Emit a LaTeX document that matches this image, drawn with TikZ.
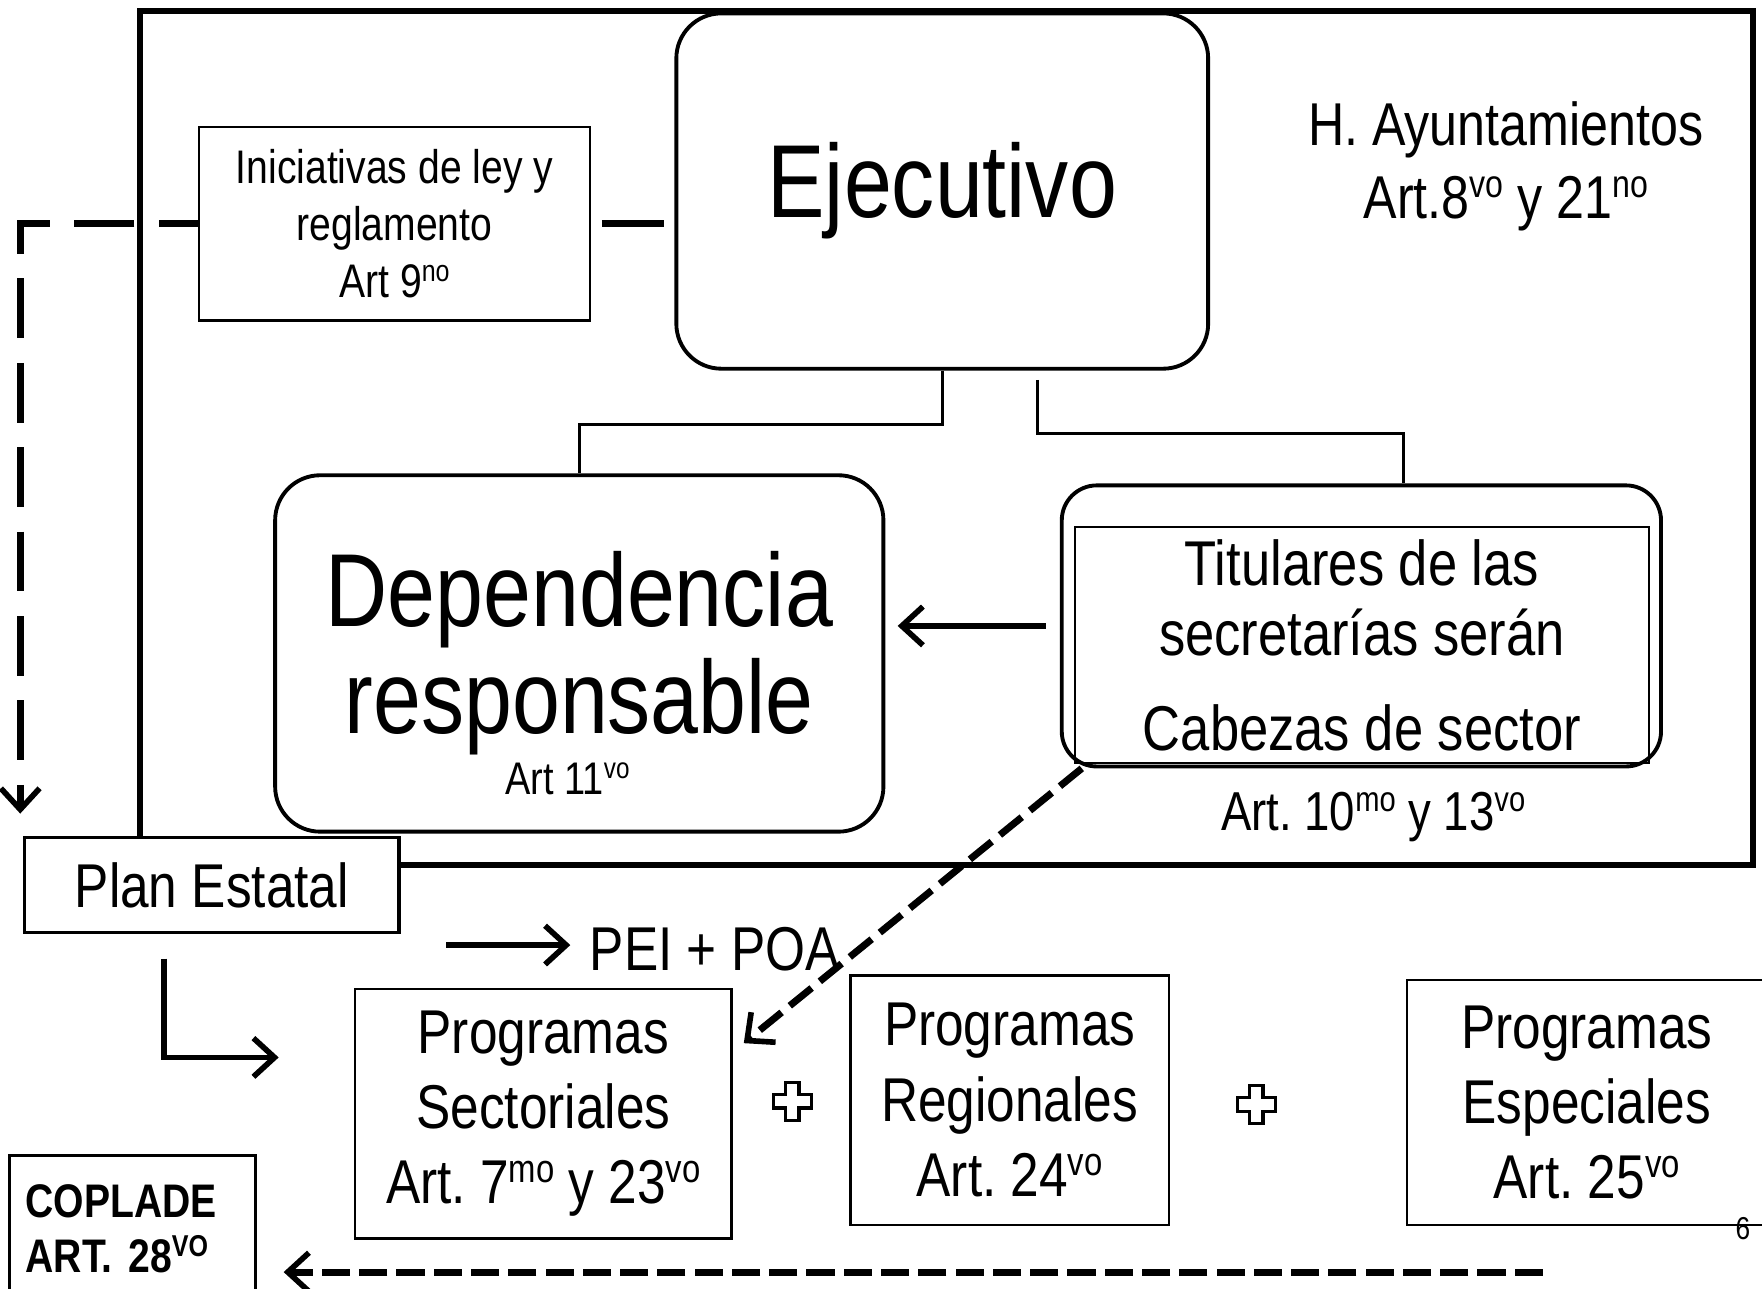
\documentclass[tikz,border=0pt]{standalone}
\usepackage{graphicx}
\usepackage{fontspec}
\setmainfont{Liberation Sans}[FakeStretch=0.83]
\usetikzlibrary{arrows.meta}
\frenchspacing
\newcommand\ordsup[1]{\raisebox{0.34em}{\scalebox{0.64}{#1}}}

\begin{document}
\begin{tikzpicture}[x=0.011237cm, y=-0.011237cm,
    frame/.style={line width=1.7pt},
    rbox/.style={draw, rounded corners=0.45cm, line width=1.1pt, align=center},
    sbox/.style={draw, line width=0.7pt, align=center},
    prog/.style={sbox, font=\fontsize{17.6}{21.4}\selectfont},
    link/.style={line width=0.8pt},
    barb/.style={-{Straight Barb[length=6pt,width=11pt,line width=1.6pt]}},
    dashln/.style={line width=2pt, dash pattern=on 8pt off 2.6pt}]
\useasboundingbox (0,0) rectangle (1568,1147);

% marco
\draw [frame] (125,10) rectangle (1560,770);

\node[rbox, minimum width=5.315cm, minimum height=3.551cm, font=\fontsize{29.5}{33}\selectfont] (eje) at (838.5,170) {Ejecutivo};

\node[sbox, minimum width=3.910cm, minimum height=1.933cm, font=\fontsize{13.4}{16.3}\selectfont] (ini) at (351,199) {Iniciativas de ley y\\reglamento\\Art 9\ordsup{no}};

\node[align=center, font=\fontsize{17.2}{20.7}\selectfont] (ayu) at (1340,148) {H. Ayuntamientos\\Art.8\ordsup{vo} y 21\ordsup{no}};

\node[rbox, minimum width=6.079cm, minimum height=3.562cm, font=\fontsize{29.5}{30.5}\selectfont] (dep) at (515.5,581.5) {Dependencia\\responsable};
\node[font=\fontsize{13}{15}\selectfont] (art11) at (505,693) {Art 11\ordsup{vo}};

\node[rbox, rounded corners=0.35cm, minimum width=5.989cm, minimum height=2.809cm] (titout) at (1211.5,557) {};
\node[draw, line width=0.6pt, align=center, minimum width=5.731cm, minimum height=2.250cm, font=\fontsize{18}{20}\selectfont] (tit) at (1212,574) {Titulares de las\\secretarías serán\\[7pt]Cabezas de sector};
\node[font=\fontsize{15.6}{18}\selectfont] (art10) at (1222,727) {Art. 10\ordsup{mo} y 13\ordsup{vo}};

\node[draw, fill=white, line width=0.9pt, minimum width=3.742cm, minimum height=0.955cm, font=\fontsize{17.6}{20}\selectfont] (plan) at (188.5,787.5) {Plan Estatal};

\node[font=\fontsize{17.6}{20}\selectfont] (pei) at (636,845) {PEI + POA};

\node[prog, minimum width=3.764cm, minimum height=2.495cm] (sect) at (483.5,991) {Programas\\Sectoriales\\Art. 7\ordsup{mo} y 23\ordsup{vo}};
\node[prog, minimum width=3.180cm, minimum height=2.495cm] (reg) at (898.5,979) {Programas\\Regionales\\Art. 24\ordsup{vo}};
\node[prog, minimum width=3.596cm, minimum height=2.450cm] (esp) at (1412,981) {Programas\\Especiales\\Art. 25\ordsup{vo}};
\node[font=\fontsize{9}{10}\selectfont] (pg) at (1551,1093) {6};

\node[draw, line width=0.9pt, anchor=north west, minimum width=2.461cm, minimum height=1.461cm, text width=2.135cm, align=left, font=\bfseries\fontsize{13.4}{15.6}\selectfont] (cop) at (7,1027) {COPLADE\\ART.\ 28\ordsup{VO}};

% conexiones del ejecutivo
\draw [link] (eje.south) -- ++(0,48) -| (dep.north);
\coordinate (ejr) at (923,338);
\draw [link] (ejr) -- ++(0,48) -| ([xshift=0.42cm]titout.north);

\draw [line width=2pt, shorten <=3pt, shorten >=3pt] (ini.east) -- (ini.east -| eje.west);

\coordinate (pdown) at (18,724);
\draw [line width=2pt, dash pattern=on 17pt off 7pt, dash phase=-18pt, barb] (ini.west) -| (pdown);

\draw [line width=1.6pt, barb, shorten <=4pt, shorten >=3.5pt] (titout.west) -- (titout.west -| dep.east);

\coordinate (peiarr) at (397,841);
\draw [line width=1.6pt, barb, shorten >=2pt] (peiarr) -- (pei.west |- peiarr);

\coordinate (lstart) at (146,853);
\coordinate (lend) at (248,941);
\draw [line width=1.6pt, barb] (lstart) |- (lend);

\draw [dashln, dash pattern=on 8pt off 3pt, barb, shorten >=4pt] (titout.207) -- (sect.18);

\coordinate (dstart) at (1373,1132);
\draw [dashln, barb, shorten >=7.5pt] (dstart) -- (dstart -| cop.east);

% signos mas
\foreach \cx/\cy in {705/980, 1118/983}
    \draw [line width=0.9pt] (\cx,\cy) ++(-6,-17) -- ++(12,0) -- ++(0,11) -- ++(11,0) -- ++(0,12) -- ++(-11,0) -- ++(0,11) -- ++(-12,0) -- ++(0,-11) -- ++(-11,0) -- ++(0,-12) -- ++(11,0) -- cycle;

\end{tikzpicture}
\end{document}
